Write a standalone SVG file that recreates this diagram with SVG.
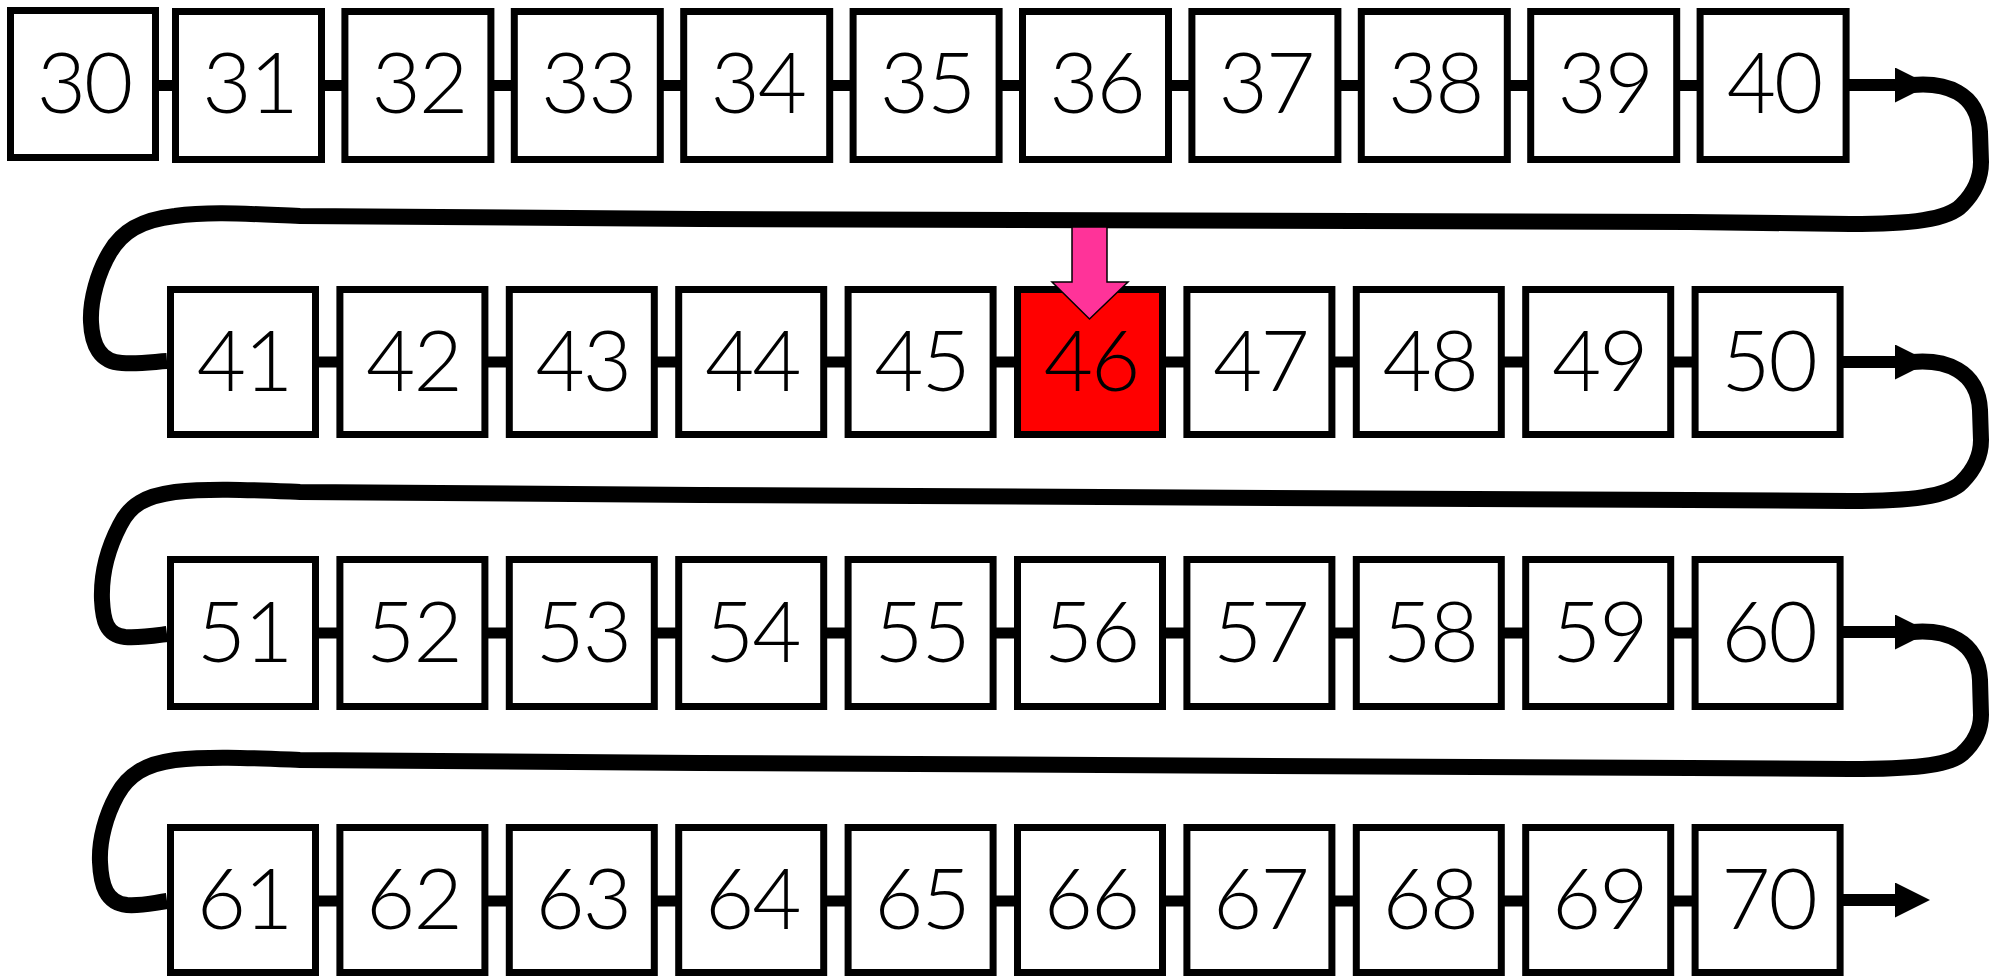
<svg xmlns="http://www.w3.org/2000/svg" width="2001" height="976" viewBox="0 0 2001 976">
<defs>
<style>
.box{fill:#fff;stroke:#000;stroke-width:7}
.hot{fill:#ff0000}
.num{font-family:"Lato","Liberation Sans",sans-serif;font-weight:300;font-size:85px;letter-spacing:-2px;text-anchor:middle;fill:#000}
.link{stroke:#000;stroke-width:11;fill:none}
.stub{stroke:#000;stroke-width:12;fill:none}
.loop{stroke:#000;stroke-width:16;fill:none;stroke-linejoin:round}
</style>
<marker id="ah" markerUnits="userSpaceOnUse" markerWidth="36" markerHeight="36" refX="0" refY="17.5" orient="auto" viewBox="0 0 36 36">
<path d="M0,0 L35,17.5 L0,35 z" fill="#000"/>
</marker>
</defs>
<rect width="2001" height="976" fill="#fff"/>
<g id="connectors">
<path class="link" d="M150,85.5 H175 M320,85.5 H345 M490,85.5 H514 M660,85.5 H684 M829,85.5 H853 M998,85.5 H1022 M1168,85.5 H1192 M1337,85.5 H1361 M1507,85.5 H1531 M1676,85.5 H1700"/>
<path class="link" d="M315,362 H340 M485,362 H509 M654,362 H679 M824,362 H848 M993,362 H1017 M1162,362 H1187 M1332,362 H1356 M1501,362 H1526 M1671,362 H1695"/>
<path class="link" d="M315,633 H340 M485,633 H509 M654,633 H679 M824,633 H848 M993,633 H1017 M1162,633 H1187 M1332,633 H1356 M1501,633 H1526 M1671,633 H1695"/>
<path class="link" d="M315,901 H340 M485,901 H509 M654,901 H679 M824,901 H848 M993,901 H1017 M1162,901 H1187 M1332,901 H1356 M1501,901 H1526 M1671,901 H1695"/>
<line class="stub" x1="1846" y1="85" x2="1895" y2="85" marker-end="url(#ah)"/>
<line class="stub" x1="1840" y1="362" x2="1895" y2="362" marker-end="url(#ah)"/>
<line class="stub" x1="1840" y1="632" x2="1895" y2="632" marker-end="url(#ah)"/>
<line class="stub" x1="1840" y1="900" x2="1895" y2="900" marker-end="url(#ah)"/>
<path class="loop" d="M1912,85 C1945,82 1978,92 1980,132 L1981,162 C1981,180 1972,195 1962,205 C1948,220 1910,224 1850,224 L1690,222 L700,219 L300,216 C250,214 210,211 175,216 C140,220 122,232 110,252 C98,272 90,300 91,322 C92,345 100,362 122,363 C140,364 152,362 167,361"/>
<path class="loop" d="M1912,362 C1945,359 1978,370 1980,410 L1981,440 C1981,458 1972,472 1962,482 C1948,497 1910,501 1850,501 L1690,500 L700,495 L300,492 C250,490 210,488 175,492 C145,496 130,505 120,525 C108,548 101,575 102,600 C103,620 106,635 125,637 C140,638 152,636 167,634"/>
<path class="loop" d="M1912,632 C1945,629 1978,640 1980,680 L1981,715 C1981,732 1972,745 1962,754 C1948,766 1910,769 1850,769 L1690,768 L700,763 L300,760 C250,758 210,756 175,760 C145,764 128,775 117,795 C106,815 99,840 100,862 C101,885 106,903 127,905 C142,906 152,903 167,901"/>
</g>
<g id="n30" transform="translate(7,7)"><rect class="box" x="3.5" y="3.5" width="145" height="147"/><text class="num" x="77" y="106">30</text></g>
<g id="n31" transform="translate(172,8)"><rect class="box" x="3.5" y="3.5" width="146" height="148"/><text class="num" x="77.5" y="105">31</text></g>
<g id="n32" transform="translate(341.4,8)"><rect class="box" x="3.5" y="3.5" width="146" height="148"/><text class="num" x="77.5" y="105">32</text></g>
<g id="n33" transform="translate(510.8,8)"><rect class="box" x="3.5" y="3.5" width="146" height="148"/><text class="num" x="77.5" y="105">33</text></g>
<g id="n34" transform="translate(680.2,8)"><rect class="box" x="3.5" y="3.5" width="146" height="148"/><text class="num" x="77.5" y="105">34</text></g>
<g id="n35" transform="translate(849.6,8)"><rect class="box" x="3.5" y="3.5" width="146" height="148"/><text class="num" x="77.5" y="105">35</text></g>
<g id="n36" transform="translate(1019,8)"><rect class="box" x="3.5" y="3.5" width="146" height="148"/><text class="num" x="77.5" y="105">36</text></g>
<g id="n37" transform="translate(1188.4,8)"><rect class="box" x="3.5" y="3.5" width="146" height="148"/><text class="num" x="77.5" y="105">37</text></g>
<g id="n38" transform="translate(1357.8,8)"><rect class="box" x="3.5" y="3.5" width="146" height="148"/><text class="num" x="77.5" y="105">38</text></g>
<g id="n39" transform="translate(1527.2,8)"><rect class="box" x="3.5" y="3.5" width="146" height="148"/><text class="num" x="77.5" y="105">39</text></g>
<g id="n40" transform="translate(1696.6,8)"><rect class="box" x="3.5" y="3.5" width="146" height="148"/><text class="num" x="77.5" y="105">40</text></g>
<g id="n41" transform="translate(167,286)"><rect class="box" x="3.5" y="3.5" width="145" height="145"/><text class="num" x="77" y="105">41</text></g>
<g id="n42" transform="translate(336.4,286)"><rect class="box" x="3.5" y="3.5" width="145" height="145"/><text class="num" x="77" y="105">42</text></g>
<g id="n43" transform="translate(505.8,286)"><rect class="box" x="3.5" y="3.5" width="145" height="145"/><text class="num" x="77" y="105">43</text></g>
<g id="n44" transform="translate(675.2,286)"><rect class="box" x="3.5" y="3.5" width="145" height="145"/><text class="num" x="77" y="105">44</text></g>
<g id="n45" transform="translate(844.6,286)"><rect class="box" x="3.5" y="3.5" width="145" height="145"/><text class="num" x="77" y="105">45</text></g>
<g id="n46" transform="translate(1014,286)"><rect class="box hot" x="3.5" y="3.5" width="145" height="145"/><text class="num" x="77" y="105">46</text></g>
<g id="n47" transform="translate(1183.4,286)"><rect class="box" x="3.5" y="3.5" width="145" height="145"/><text class="num" x="77" y="105">47</text></g>
<g id="n48" transform="translate(1352.8,286)"><rect class="box" x="3.5" y="3.5" width="145" height="145"/><text class="num" x="77" y="105">48</text></g>
<g id="n49" transform="translate(1522.2,286)"><rect class="box" x="3.5" y="3.5" width="145" height="145"/><text class="num" x="77" y="105">49</text></g>
<g id="n50" transform="translate(1691.6,286)"><rect class="box" x="3.5" y="3.5" width="145" height="145"/><text class="num" x="77" y="105">50</text></g>
<g id="n51" transform="translate(167,556)"><rect class="box" x="3.5" y="3.5" width="145" height="147"/><text class="num" x="77" y="106">51</text></g>
<g id="n52" transform="translate(336.4,556)"><rect class="box" x="3.5" y="3.5" width="145" height="147"/><text class="num" x="77" y="106">52</text></g>
<g id="n53" transform="translate(505.8,556)"><rect class="box" x="3.5" y="3.5" width="145" height="147"/><text class="num" x="77" y="106">53</text></g>
<g id="n54" transform="translate(675.2,556)"><rect class="box" x="3.5" y="3.5" width="145" height="147"/><text class="num" x="77" y="106">54</text></g>
<g id="n55" transform="translate(844.6,556)"><rect class="box" x="3.5" y="3.5" width="145" height="147"/><text class="num" x="77" y="106">55</text></g>
<g id="n56" transform="translate(1014,556)"><rect class="box" x="3.5" y="3.5" width="145" height="147"/><text class="num" x="77" y="106">56</text></g>
<g id="n57" transform="translate(1183.4,556)"><rect class="box" x="3.5" y="3.5" width="145" height="147"/><text class="num" x="77" y="106">57</text></g>
<g id="n58" transform="translate(1352.8,556)"><rect class="box" x="3.5" y="3.5" width="145" height="147"/><text class="num" x="77" y="106">58</text></g>
<g id="n59" transform="translate(1522.2,556)"><rect class="box" x="3.5" y="3.5" width="145" height="147"/><text class="num" x="77" y="106">59</text></g>
<g id="n60" transform="translate(1691.6,556)"><rect class="box" x="3.5" y="3.5" width="145" height="147"/><text class="num" x="77" y="106">60</text></g>
<g id="n61" transform="translate(167,824)"><rect class="box" x="3.5" y="3.5" width="145" height="145"/><text class="num" x="77" y="105">61</text></g>
<g id="n62" transform="translate(336.4,824)"><rect class="box" x="3.5" y="3.5" width="145" height="145"/><text class="num" x="77" y="105">62</text></g>
<g id="n63" transform="translate(505.8,824)"><rect class="box" x="3.5" y="3.5" width="145" height="145"/><text class="num" x="77" y="105">63</text></g>
<g id="n64" transform="translate(675.2,824)"><rect class="box" x="3.5" y="3.5" width="145" height="145"/><text class="num" x="77" y="105">64</text></g>
<g id="n65" transform="translate(844.6,824)"><rect class="box" x="3.5" y="3.5" width="145" height="145"/><text class="num" x="77" y="105">65</text></g>
<g id="n66" transform="translate(1014,824)"><rect class="box" x="3.5" y="3.5" width="145" height="145"/><text class="num" x="77" y="105">66</text></g>
<g id="n67" transform="translate(1183.4,824)"><rect class="box" x="3.5" y="3.5" width="145" height="145"/><text class="num" x="77" y="105">67</text></g>
<g id="n68" transform="translate(1352.8,824)"><rect class="box" x="3.5" y="3.5" width="145" height="145"/><text class="num" x="77" y="105">68</text></g>
<g id="n69" transform="translate(1522.2,824)"><rect class="box" x="3.5" y="3.5" width="145" height="145"/><text class="num" x="77" y="105">69</text></g>
<g id="n70" transform="translate(1691.6,824)"><rect class="box" x="3.5" y="3.5" width="145" height="145"/><text class="num" x="77" y="105">70</text></g>
<g id="pointer">
<polygon points="1072,227 1107,227 1107,282 1128,282 1089.5,319 1052,282 1072,282" fill="#ff3399" stroke="#000" stroke-width="1.5" stroke-linejoin="miter"/>
</g>
</svg>
